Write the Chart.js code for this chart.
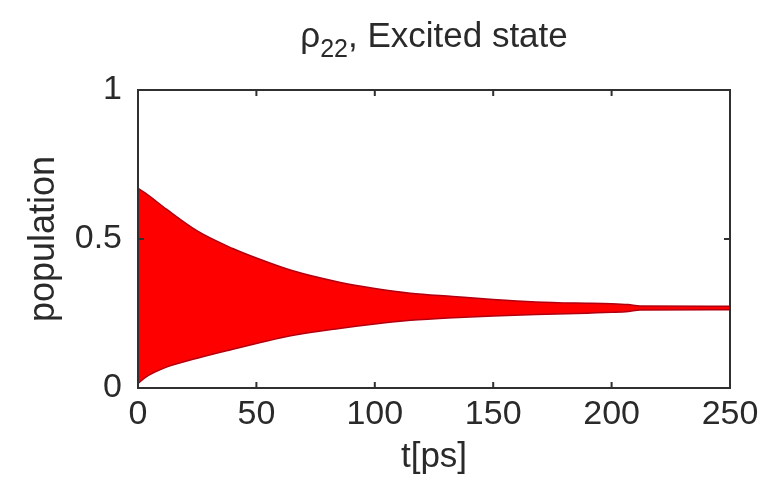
<!DOCTYPE html>
<html>
<head>
<meta charset="utf-8">
<script src="https://cdn.jsdelivr.net/npm/chart.js@4/dist/chart.umd.min.js"></script>
<style>
  html, body { margin: 0; padding: 0; background: #fff; }
  #wrap { width: 761px; height: 491px; }
</style>
</head>
<body>
<div id="wrap"><canvas id="myChartRho" width="761" height="491"></canvas></div>
<script>
// time axis (ps) and envelope of rho22
const timePs = [0, 3, 12, 25, 40, 50, 65, 85, 100, 115, 133, 150, 168, 185, 200, 207, 212, 250];
const upperEnv = [0.67, 0.655, 0.6, 0.527, 0.468, 0.436, 0.394, 0.355, 0.334, 0.318, 0.307, 0.297, 0.289, 0.285, 0.283, 0.28, 0.275, 0.274];
const lowerEnv = [0.015, 0.035, 0.07, 0.10, 0.13, 0.149, 0.176, 0.2, 0.215, 0.227, 0.236, 0.242, 0.247, 0.25, 0.254, 0.257, 0.262, 0.263];

const xTicks = [0, 50, 100, 150, 200, 250];
const yTicks = [0, 0.5, 1];

const titleMain = 'ρ';
const titleSub = '22';
const titleRest = ', Excited state';

const FONT = "'Liberation Sans', Arial, Helvetica, sans-serif";
const TEXT = '#2a2a2a';

const ctxRho = document.getElementById('myChartRho');

//TITLE WITH SUBSCRIPT
const subTitle = {
  id: 'subTitle',
  afterDraw(chart) {
    const { ctx, chartArea: a } = chart;
    const big = '35px ' + FONT;
    const small = '25px ' + FONT;
    ctx.save();
    ctx.fillStyle = TEXT;
    ctx.textBaseline = 'alphabetic';
    ctx.font = big;
    const w1 = ctx.measureText(titleMain).width;
    const w3 = ctx.measureText(titleRest).width;
    ctx.font = small;
    const w2 = ctx.measureText(titleSub).width;
    let x = (a.left + a.right) / 2 - (w1 + w2 + w3) / 2;
    const base = 47;
    ctx.font = big;
    ctx.fillText(titleMain, x, base);
    x += w1;
    ctx.font = small;
    ctx.fillText(titleSub, x, base + 10);
    x += w2;
    ctx.font = big;
    ctx.fillText(titleRest, x, base);
    ctx.restore();
  }
};

//MATLAB STYLE BOX + INWARD TICKS
const matlabAxes = {
  id: 'matlabAxes',
  afterDatasetsDraw(chart) {
    const { ctx, chartArea: a, scales: { x, y } } = chart;
    const len = 6;
    ctx.save();
    ctx.strokeStyle = '#303030';
    ctx.lineWidth = 2;
    ctx.strokeRect(a.left, a.top, a.right - a.left, a.bottom - a.top);
    ctx.beginPath();
    xTicks.forEach(v => {
      const px = x.getPixelForValue(v);
      ctx.moveTo(px, a.bottom); ctx.lineTo(px, a.bottom - len);
      ctx.moveTo(px, a.top); ctx.lineTo(px, a.top + len);
    });
    yTicks.forEach(v => {
      const py = y.getPixelForValue(v);
      ctx.moveTo(a.left, py); ctx.lineTo(a.left + len, py);
      ctx.moveTo(a.right, py); ctx.lineTo(a.right - len, py);
    });
    ctx.stroke();
    ctx.restore();
  }
};

let myChartRho = new Chart(ctxRho, {
  type: 'line',
  data: {
    datasets: [
      {
        label: 'lower',
        data: timePs.map((t, i) => ({ x: t, y: lowerEnv[i] })),
        borderColor: '#b00010',
        borderWidth: 1.5,
        pointRadius: 0,
        fill: false,
        cubicInterpolationMode: 'monotone'
      },
      {
        label: 'upper',
        data: timePs.map((t, i) => ({ x: t, y: upperEnv[i] })),
        borderColor: '#b00010',
        borderWidth: 1.5,
        pointRadius: 0,
        backgroundColor: '#ff0000',
        fill: '-1',
        cubicInterpolationMode: 'monotone'
      }
    ]
  },
  options: {
    responsive: false,
    animation: false,
    layout: { padding: { left: 0, right: 31, top: 90, bottom: 0 } },
    plugins: {
      legend: { display: false },
      tooltip: { enabled: false },
      title: { display: false }
    },
    scales: {
      x: {
        type: 'linear',
        min: 0,
        max: 250,
        afterBuildTicks: s => { s.ticks = xTicks.map(v => ({ value: v })); },
        afterFit: s => { s.height = 103; s.paddingRight = 0; s.paddingLeft = 0; },
        grid: { display: false, drawTicks: false },
        border: { display: false },
        ticks: {
          color: TEXT,
          padding: 6,
          maxRotation: 0,
          font: { family: FONT, size: 34 }
        },
        title: {
          display: true,
          text: 't[ps]',
          color: TEXT,
          font: { family: FONT, size: 35 },
          padding: { top: 0, bottom: 13 }
        }
      },
      y: {
        min: 0,
        max: 1,
        afterBuildTicks: s => { s.ticks = yTicks.map(v => ({ value: v })); },
        afterFit: s => { s.width = 138; },
        grid: { display: false, drawTicks: false },
        border: { display: false },
        ticks: {
          color: TEXT,
          padding: 16,
          font: { family: FONT, size: 34 },
          callback: v => String(v)
        },
        title: {
          display: true,
          text: 'population',
          color: TEXT,
          font: { family: FONT, size: 36 },
          padding: { top: 22, bottom: 0 }
        }
      }
    }
  },
  plugins: [matlabAxes, subTitle]
});
</script>
</body>
</html>
